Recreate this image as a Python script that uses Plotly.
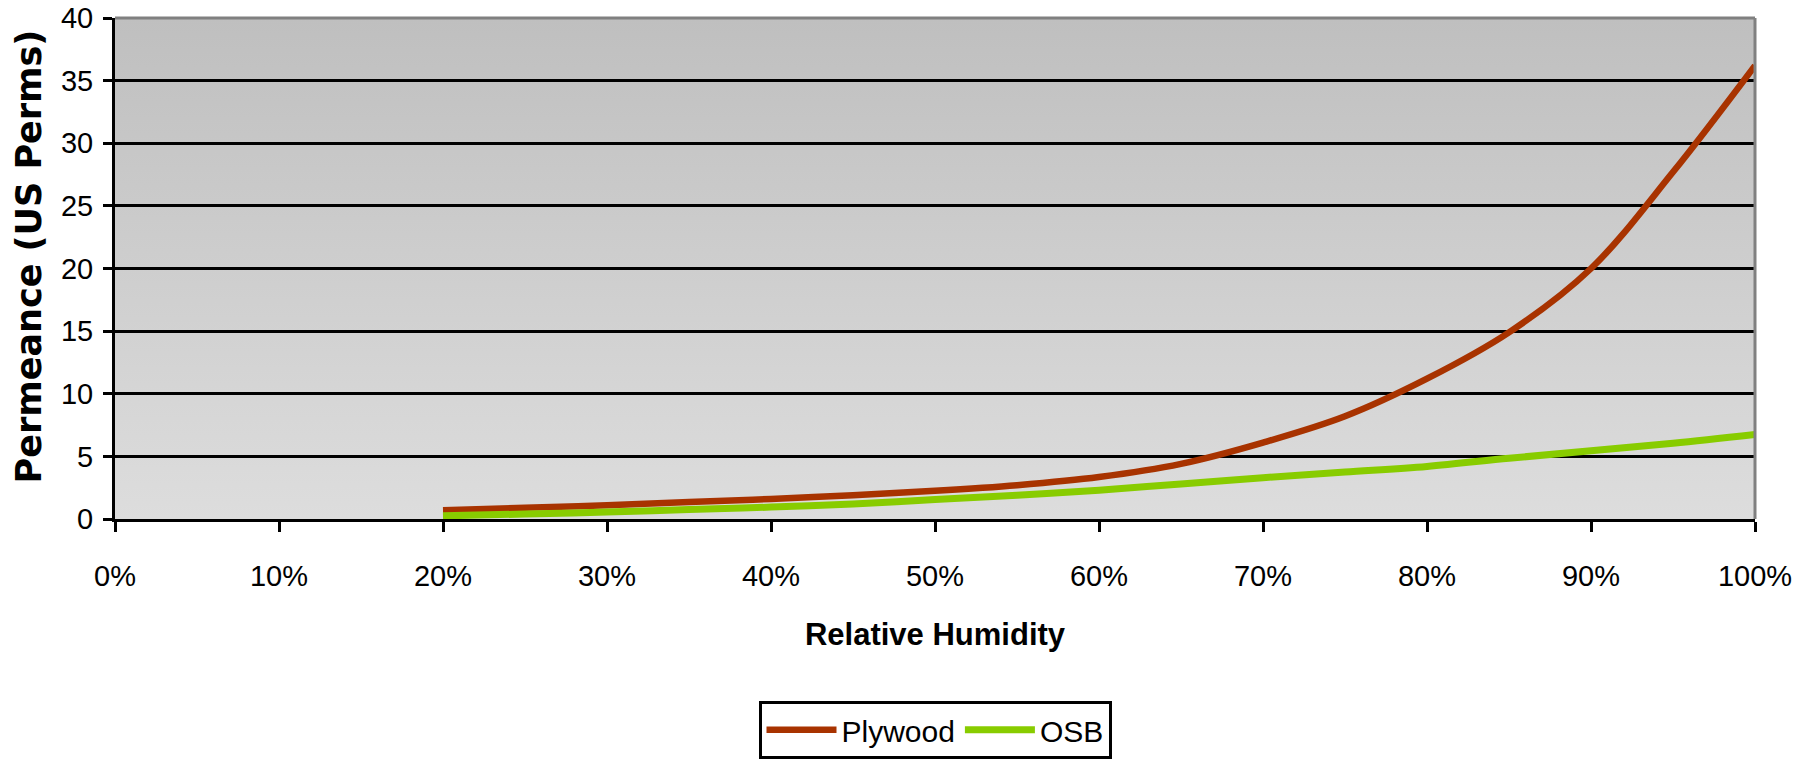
import base64
import plotly.graph_objects as go

# ---- data ----
rh = [20, 25, 30, 35, 40, 45, 50, 55, 60, 65, 70, 75, 80, 85, 90, 95, 100]
plywood = [0.7, 0.9, 1.1, 1.35, 1.6, 1.9, 2.25, 2.7, 3.35, 4.4, 6.1, 8.2, 11.2, 14.9, 20.0, 27.7, 36.2]
osb = [0.25, 0.4, 0.55, 0.75, 0.95, 1.2, 1.55, 1.9, 2.3, 2.8, 3.3, 3.75, 4.2, 4.85, 5.45, 6.05, 6.75]

x_ticks = [0, 10, 20, 30, 40, 50, 60, 70, 80, 90, 100]
x_labels = ["0%", "10%", "20%", "30%", "40%", "50%", "60%", "70%", "80%", "90%", "100%"]
y_ticks = [0, 5, 10, 15, 20, 25, 30, 35, 40]

FONT = "Liberation Sans, Arial, sans-serif"

fig = go.Figure()
fig.add_trace(go.Scatter(x=rh, y=plywood, name="Plywood", mode="lines",
                         line=dict(color="#a83300", width=6.5, shape="spline", smoothing=1)))
fig.add_trace(go.Scatter(x=rh, y=osb, name="OSB", mode="lines",
                         line=dict(color="#88cc00", width=7, shape="spline", smoothing=1)))

# gradient plot background via SVG image
svg = ('<svg xmlns="http://www.w3.org/2000/svg" width="10" height="100" viewBox="0 0 10 100" '
       'preserveAspectRatio="none"><defs><linearGradient id="g" x1="0" y1="0" x2="0" y2="1">'
       '<stop offset="0" stop-color="#bfbfbf"/><stop offset="1" stop-color="#dddddd"/>'
       '</linearGradient></defs><rect width="10" height="100" fill="url(#g)"/></svg>')
src = "data:image/svg+xml;base64," + base64.b64encode(svg.encode()).decode()

fig.update_layout(
    width=1806, height=771,
    margin=dict(l=115, r=51, t=18, b=249, pad=0),
    paper_bgcolor="white",
    plot_bgcolor="#d0d0d0",
    images=[dict(source=src, xref="paper", yref="paper", x=0, y=1, sizex=1, sizey=1,
                 xanchor="left", yanchor="top", sizing="stretch", layer="below")],
    showlegend=True,
    legend=dict(orientation="h", x=0.5, xanchor="center", y=-0.363, yanchor="top",
                bordercolor="black", borderwidth=3, bgcolor="white",
                font=dict(family=FONT, size=30, color="black"),
                itemwidth=70),
    shapes=[
        dict(type="line", xref="paper", yref="paper", x0=0, x1=1, y0=1, y1=1,
             line=dict(color="#808080", width=3), layer="above"),
        dict(type="line", xref="paper", yref="paper", x0=1, x1=1, y0=0, y1=1,
             line=dict(color="#808080", width=3), layer="above"),
    ],
    annotations=[
        dict(text="<b>Permeance (US Perms)</b>", xref="paper", yref="paper",
             x=0, y=0.524, xshift=-86, xanchor="center", yanchor="middle",
             textangle=-90, showarrow=False,
             font=dict(family="DejaVu Sans", size=35, color="black")),
    ],
)

fig.update_xaxes(
    range=[0, 100], tickvals=x_ticks, ticktext=x_labels,
    showgrid=False, zeroline=False,
    showline=True, linecolor="black", linewidth=3,
    ticks="outside", ticklen=10, tickwidth=3, tickcolor="black",
    tickfont=dict(family=FONT, size=29, color="black"),
    ticklabelstandoff=19, ticklabeloverflow="allow",
    title=dict(text="<b>Relative Humidity</b>", standoff=33,
               font=dict(family=FONT, size=31, color="black")),
    automargin=False,
)
fig.update_yaxes(
    range=[0, 40], tickvals=y_ticks,
    showgrid=True, gridcolor="black", gridwidth=3, zeroline=False,
    showline=True, linecolor="black", linewidth=3,
    ticks="outside", ticklen=9, tickwidth=3, tickcolor="black",
    tickfont=dict(family=FONT, size=29, color="black"),
    ticklabelstandoff=4, ticklabeloverflow="allow",
    automargin=False,
)

fig.write_html(
    "out.html", config={"displayModeBar": False},
    post_script=("document.documentElement.style.margin='0';"
                 "document.documentElement.style.overflow='hidden';"
                 "document.body.style.margin='0';"
                 "document.body.style.overflow='hidden';"),
)
